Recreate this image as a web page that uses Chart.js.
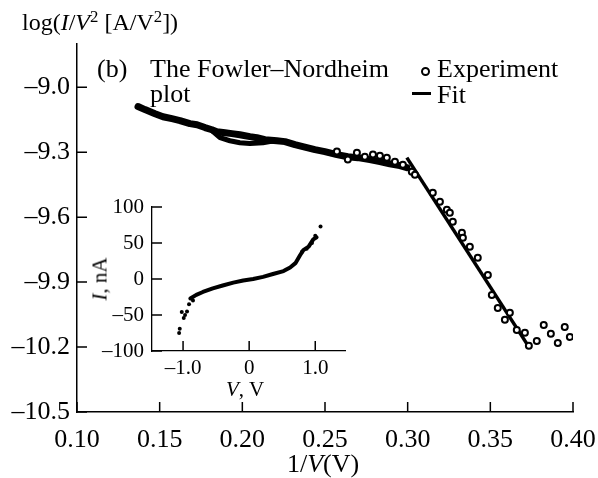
<!DOCTYPE html>
<html lang="en">
<head>
<meta charset="UTF-8" />
<title>Fowler–Nordheim plot</title>
<script src="https://cdn.jsdelivr.net/npm/chart.js"></script>
<style>
  html, body { margin: 0; padding: 0; background: #fff; }
  #wrap { position: relative; width: 598px; height: 478px; font-family: "Liberation Serif", "DejaVu Serif", serif; color: #000; }
  canvas { position: absolute; left: 0; top: 0; }
  .lbl { position: absolute; white-space: nowrap; line-height: 1; }
  .lbl sup { font-size: 0.7em; vertical-align: 0.45em; line-height: 0; }
  .c { transform: translate(-50%, -50%); }
  .mk-circle { position: absolute; width: 5px; height: 5px; border: 2px solid #000; border-radius: 50%; background: #fff; }
  .mk-line { position: absolute; width: 19px; height: 3px; background: #000; }
</style>
</head>
<body>
<div id="wrap">
  <canvas id="mainChart" width="598" height="478"></canvas>
  <canvas id="insetChart" width="598" height="478"></canvas>

  <!-- axis titles and notes -->
  <div class="lbl" style="left:22px; top:10px; font-size:24px;">log(<i>I</i>/<i>V</i><sup>2</sup> [A/V<sup>2</sup>])</div>
  <div class="lbl c" style="left:323px; top:464px; font-size:26px;">1/<i>V</i>(V)</div>
  <div class="lbl" style="left:97px; top:56px; font-size:26px;">(b)</div>
  <div class="lbl" style="left:150px; top:56px; font-size:26px; line-height:25px;">The Fowler–Nordheim<br>plot</div>

  <!-- legend -->
  <div class="mk-circle" style="left:421px; top:67px;"></div>
  <div class="lbl" style="left:437px; top:56px; font-size:26px;">Experiment</div>
  <div class="mk-line" style="left:412px; top:92px;"></div>
  <div class="lbl" style="left:437px; top:82px; font-size:26px;">Fit</div>

  <!-- inset titles -->
  <div class="lbl c" style="left:100px; top:279px; font-size:21px; transform: translate(-50%, -50%) rotate(-90deg);"><i>I</i>, nA</div>
  <div class="lbl c" style="left:245px; top:389px; font-size:21px;"><i>V</i>, V</div>
</div>

<script>
  // main plot: dense part of the measured curve
  const bandX = [0.1369, 0.1411, 0.1472, 0.1520, 0.1574, 0.1623, 0.1683, 0.1726, 0.1774, 0.1816,
                 0.1846, 0.1895, 0.1937, 0.1985, 0.2046, 0.2088, 0.2137, 0.2209, 0.2258, 0.2318,
                 0.2366, 0.2439, 0.2499, 0.2572, 0.2638, 0.2699, 0.2771, 0.2832, 0.2892, 0.2953, 0.2995];
  const bandY = [-9.089, -9.103, -9.122, -9.136, -9.145, -9.154, -9.168, -9.173, -9.186, -9.196,
                 -9.205, -9.210, -9.214, -9.219, -9.228, -9.233, -9.242, -9.247, -9.251, -9.265,
                 -9.274, -9.288, -9.297, -9.311, -9.321, -9.325, -9.334, -9.343, -9.353, -9.362, -9.371];
  // second strand of the loop
  const loopX = [0.1816, 0.1865, 0.1925, 0.1985, 0.2046, 0.2125, 0.2167, 0.2209];
  const loopY = [-9.200, -9.233, -9.247, -9.256, -9.260, -9.256, -9.251, -9.247];
  // single open-circle points
  const expX = [0.2572, 0.2638, 0.2693, 0.2741, 0.2790, 0.2832, 0.2874, 0.2923, 0.2971, 0.3025,
                0.3044, 0.3152, 0.3195, 0.3237, 0.3255, 0.3273, 0.3328, 0.3334, 0.3376, 0.3424,
                0.3485, 0.3509, 0.3545, 0.3618, 0.3588, 0.3660, 0.3709, 0.3733, 0.3781, 0.3823,
                0.3866, 0.3908, 0.3950, 0.3981];
  const expY = [-9.297, -9.334, -9.302, -9.321, -9.311, -9.316, -9.325, -9.344, -9.358, -9.390,
                -9.404, -9.487, -9.529, -9.566, -9.580, -9.621, -9.672, -9.695, -9.737, -9.788,
                -9.867, -9.959, -10.019, -10.042, -10.074, -10.121, -10.134, -10.194, -10.172, -10.098,
                -10.139, -10.181, -10.107, -10.153];
  // fit line
  const fitX = [0.2995, 0.3733];
  const fitY = [-9.325, -10.199];

  const xTicks = [0.10, 0.15, 0.20, 0.25, 0.30, 0.35, 0.40];
  const yTicks = [-10.5, -10.2, -9.9, -9.6, -9.3, -9.0];

  // inset I-V curve
  const ivCoreV = [-0.89, -0.80, -0.70, -0.55, -0.40, -0.24, -0.09, 0.06, 0.21, 0.36, 0.52, 0.62, 0.70, 0.77, 0.82, 0.90, 0.97, 1.02];
  const ivCoreI = [-27, -22, -18, -13, -9, -5, -2, 0, 3, 7, 11, 16, 22, 33, 40, 45, 55, 58];
  const ivScatV = [-1.06, -1.05, -1.02, -0.99, -0.97, -0.94, -0.91, -0.85, 0.80, 0.87, 0.95, 1.00, 1.08];
  const ivScatI = [-75, -69, -46, -54, -50, -45, -35, -30, 38, 42, 50, 60, 73];

  const insetXTicks = [-1, 0, 1];
  const insetYTicks = [-100, -50, 0, 50, 100];

  const FONT = "'Liberation Serif', 'DejaVu Serif', serif";
  const pts = (xs, ys) => xs.map((x, i) => ({ x: x, y: ys[i] }));
  const fmt = (v, d) => (v < 0 ? '\u2013' : '') + Math.abs(v).toFixed(d);

  // ticks pointing into the plot
  const inwardTicks = {
    id: 'inwardTicks',
    afterDraw(chart, args, opts) {
      const len = (opts && opts.len) || 10;
      const { ctx, chartArea } = chart;
      const x = chart.scales.x, y = chart.scales.y;
      ctx.save();
      ctx.strokeStyle = '#000';
      ctx.lineWidth = 1.5;
      ctx.beginPath();
      x.ticks.forEach(t => {
        const px = x.getPixelForValue(t.value);
        ctx.moveTo(px, chartArea.bottom);
        ctx.lineTo(px, chartArea.bottom - len);
      });
      y.ticks.forEach(t => {
        const py = y.getPixelForValue(t.value);
        ctx.moveTo(chartArea.left, py);
        ctx.lineTo(chartArea.left + len, py);
      });
      ctx.stroke();
      ctx.restore();
    }
  };

  // keep the plot box where the layout padding puts it
  const fixX = h => s => { s.height = h; s.paddingLeft = 0; s.paddingRight = 0; };
  const fixY = w => s => { s.width = w; s.paddingTop = 0; s.paddingBottom = 0; };

  new Chart(document.getElementById('mainChart'), {
    type: 'scatter',
    data: {
      datasets: [
        {
          data: pts(expX, expY), showLine: false, order: 0,
          pointRadius: 3, pointBorderWidth: 2,
          pointBorderColor: '#000', pointBackgroundColor: '#fff'
        },
        {
          data: pts(fitX, fitY), showLine: true, order: 1,
          borderColor: '#000', borderWidth: 3.5, pointRadius: 0
        },
        {
          data: pts(bandX, bandY), showLine: true, order: 2,
          borderColor: '#000', borderWidth: 7, pointRadius: 0,
          borderCapStyle: 'round', borderJoinStyle: 'round'
        },
        {
          data: pts(loopX, loopY), showLine: true, order: 3,
          borderColor: '#000', borderWidth: 5, pointRadius: 0,
          borderCapStyle: 'round', borderJoinStyle: 'round'
        }
      ]
    },
    options: {
      responsive: false,
      animation: false,
      events: [],
      layout: { padding: { top: 44, right: 25, left: 0, bottom: 0 } },
      plugins: { legend: { display: false }, tooltip: { enabled: false }, inwardTicks: { len: 10 } },
      scales: {
        x: {
          type: 'linear', min: 0.10, max: 0.40,
          grid: { display: false, drawTicks: false },
          border: { display: true, color: '#000', width: 1.5 },
          afterBuildTicks: s => { s.ticks = xTicks.map(v => ({ value: v })); },
          afterFit: fixX(66),
          ticks: { color: '#000', padding: 13, maxRotation: 0, font: { family: FONT, size: 26 }, callback: v => fmt(v, 2) }
        },
        y: {
          type: 'linear', min: -10.5, max: -8.8,
          grid: { display: false, drawTicks: false },
          border: { display: true, color: '#000', width: 1.5 },
          afterBuildTicks: s => { s.ticks = yTicks.map(v => ({ value: v })); },
          afterFit: fixY(77),
          ticks: { color: '#000', padding: 7, font: { family: FONT, size: 26 }, callback: v => fmt(v, 1) }
        }
      }
    },
    plugins: [inwardTicks]
  });

  new Chart(document.getElementById('insetChart'), {
    type: 'scatter',
    data: {
      datasets: [
        {
          data: pts(ivScatV, ivScatI), showLine: false,
          pointRadius: 2, pointBorderWidth: 0, pointBackgroundColor: '#000'
        },
        {
          data: pts(ivCoreV, ivCoreI), showLine: true,
          borderColor: '#000', borderWidth: 4, pointRadius: 0,
          borderCapStyle: 'round', borderJoinStyle: 'round'
        }
      ]
    },
    options: {
      responsive: false,
      animation: false,
      events: [],
      layout: { padding: { top: 207, right: 253, left: 0, bottom: 0 } },
      plugins: { legend: { display: false }, tooltip: { enabled: false }, inwardTicks: { len: 10 } },
      scales: {
        x: {
          type: 'linear', min: -1.47, max: 1.45,
          grid: { display: false, drawTicks: false },
          border: { display: true, color: '#000', width: 1.3 },
          afterBuildTicks: s => { s.ticks = insetXTicks.map(v => ({ value: v })); },
          afterFit: fixX(127),
          ticks: { color: '#000', padding: 5, maxRotation: 0, font: { family: FONT, size: 21 }, callback: v => (v === 0 ? '0' : fmt(v, 1)) }
        },
        y: {
          type: 'linear', min: -100, max: 100,
          grid: { display: false, drawTicks: false },
          border: { display: true, color: '#000', width: 1.3 },
          afterBuildTicks: s => { s.ticks = insetYTicks.map(v => ({ value: v })); },
          afterFit: fixY(152),
          ticks: { color: '#000', padding: 8, font: { family: FONT, size: 21 }, callback: v => fmt(v, 0) }
        }
      }
    },
    plugins: [inwardTicks]
  });
</script>
</body>
</html>
